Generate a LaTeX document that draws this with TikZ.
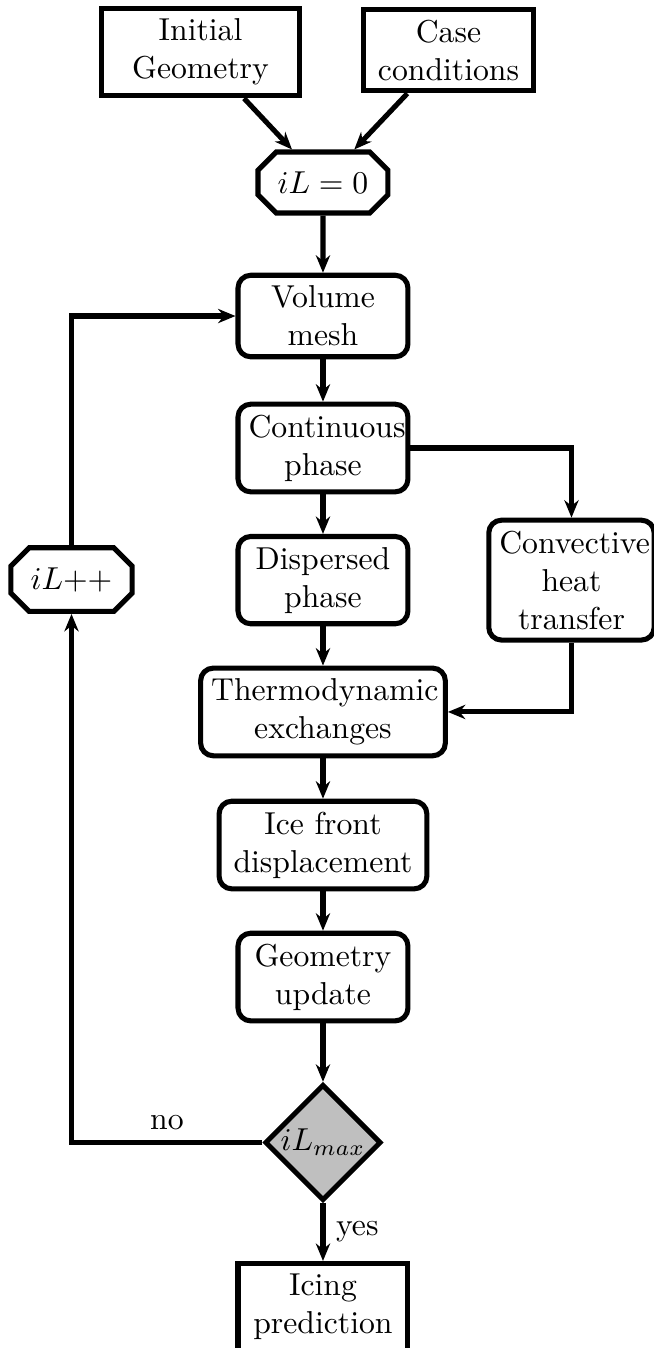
\documentclass[tikz,border=0pt]{standalone}
\usetikzlibrary{shapes.geometric,shapes.misc,arrows.meta}

\tikzset{
  process/.style={draw, ultra thick, rounded corners, align=center, text width=1.65cm},
  inout/.style={draw, ultra thick, align=center, text width=1.65cm},
  counter/.style={draw, ultra thick, chamfered rectangle, minimum height=0.63cm},
  decision/.style={draw, ultra thick, diamond, fill=gray!50, inner sep=0pt, minimum size=1.29cm},
  flow/.style={ultra thick, -{Stealth[length=5.5pt,width=4.5pt]}}
}

\begin{document}
\begin{tikzpicture}[]
        \useasboundingbox (0,0) rectangle (7.242,14.95);
        % inputs and loop start
        \node [inout, text width=1.96cm] (geo0) at (2.224,14.373) {Initial Geometry};
        \node [inout] (cond) at (4.974,14.395) {Case conditions};
        \node [counter, minimum width=1.33cm] (start) at (3.582,12.926) {$iL=0$};
        % main chain
        \node [process] (mesh) at (3.582,11.445) {Volume mesh};
        \node [process] (cont) at (3.582,9.981) {Continuous phase};
        \node [process] (disp) at (3.582,8.516) {Dispersed phase};
        \node [process, text width=1.6cm] (conv) at (6.338,8.516) {Convective heat transfer};
        \node [process, text width=2.48cm] (thermo) at (3.582,7.054) {Thermodynamic exchanges};
        \node [process, text width=2.07cm] (ice) at (3.582,5.578) {Ice front displacement};
        \node [process] (update) at (3.582,4.114) {Geometry update};
        % test and output
        \node [decision] (test) at (3.582,2.279) {$iL_{max}$};
        \node [inout] (pred) at (3.582,0.455) {Icing prediction};
        \node [counter, minimum width=1.24cm] (incr) at (0.793,8.522) {$iL$++};

        % connectors
        \draw [flow] (geo0) -- (start);
        \draw [flow] (cond) -- (start);
        \draw [flow] (start) -- (mesh);
        \draw [flow] (mesh) -- (cont);
        \draw [flow] (cont) -- (disp);
        \draw [flow] (cont) -| (conv);
        \draw [flow] (disp) -- (thermo);
        \draw [flow] (conv) |- (thermo);
        \draw [flow] (thermo) -- (ice);
        \draw [flow] (ice) -- (update);
        \draw [flow] (update) -- (test);
        \draw [flow] (test) -- node [right] {yes} (pred);
        \draw [flow] (test) -| node [pos=0.25, above] {no} (incr);
        \draw [flow] (incr) |- (mesh);

    \end{tikzpicture}
\end{document}
